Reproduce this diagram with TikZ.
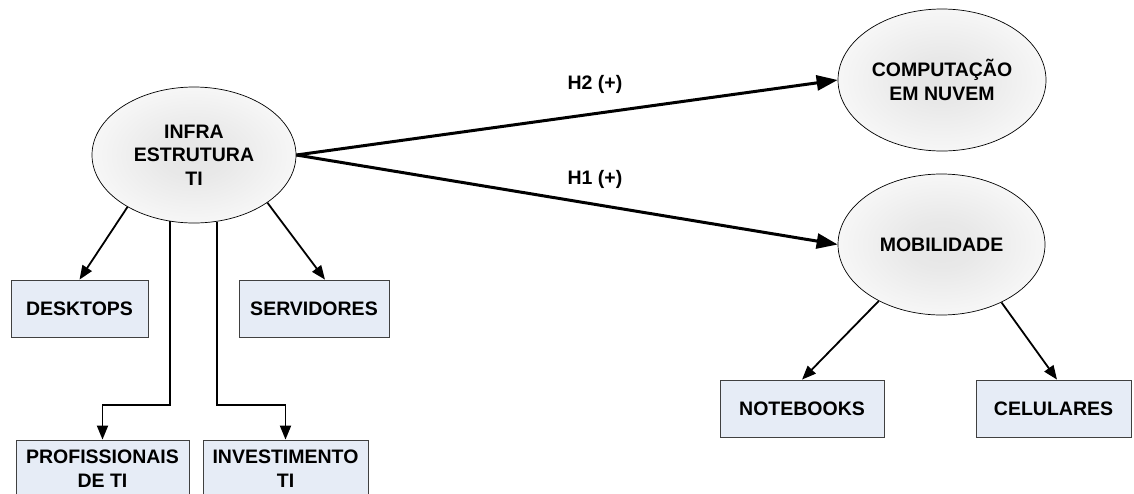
\documentclass[tikz,border=0pt]{standalone}
\usepackage{fontspec}
\setmainfont{Liberation Sans}
\usetikzlibrary{shapes.geometric,arrows.meta}
\definecolor{boxfill}{HTML}{E6ECF6}
\definecolor{boxborder}{HTML}{404040}
\pgfdeclareradialshading{ellshade}{\pgfpoint{0bp}{0bp}}{rgb(0bp)=(0.90,0.90,0.90); rgb(8bp)=(0.91,0.91,0.91); rgb(26bp)=(0.97,0.97,0.97); rgb(36bp)=(1,1,1); rgb(50bp)=(1,1,1)}
\newcommand{\lblfont}{\fontsize{19.5}{23.5}\selectfont\bfseries}
\tikzset{
  ell/.style={ellipse, draw=black, line width=0.7pt, shading=ellshade, inner sep=0pt, align=center, font=\lblfont},
  bx/.style={rectangle, draw=boxborder, fill=boxfill, line width=0.8pt, minimum height=57pt, inner sep=0pt, align=center, font=\lblfont},
  lbl/.style={font=\lblfont, inner sep=0pt},
  thinarr/.style={-{Triangle[length=14pt,width=11pt]}, line width=1.8pt},
  thickarr/.style={-{Triangle[length=21pt,width=15pt]}, line width=3pt}
}
\begin{document}
\begin{tikzpicture}[x=1pt,y=-1pt]
\useasboundingbox (0,0) rectangle (1134,493);
% ellipses
\node[ell, minimum width=204pt, minimum height=136pt] (infra) at (194,155) {INFRA\\ESTRUTURA\\TI};
\node[ell, minimum width=208pt, minimum height=142pt] (comp) at (942,80) {COMPUTAÇÃO\\EM NUVEM};
\node[ell, minimum width=207pt, minimum height=141pt] (mob) at (941.5,244.5) {MOBILIDADE};
% boxes
\node[bx, minimum width=137pt] (desk) at (79.5,308.5) {DESKTOPS};
\node[bx, minimum width=150pt] (serv) at (314,308.5) {SERVIDORES};
\node[bx, minimum width=173pt] (prof) at (102.5,468.5) {PROFISSIONAIS\\DE TI};
\node[bx, minimum width=165pt] (inv) at (285.5,468.5) {INVESTIMENTO\\TI};
\node[bx, minimum width=164pt] (note) at (802,408.5) {NOTEBOOKS};
\node[bx, minimum width=155pt] (cel) at (1053.5,408.5) {CELULARES};
% labels
\node[lbl] (h2) at (595,84) {H2 (+)};
\node[lbl] (h1) at (595,179) {H1 (+)};
% connectors
\draw[thickarr] (infra.east) -- (comp.west);
\draw[thickarr] (infra.east) -- (mob.west);
\draw[thinarr] (infra.218.8) -- (desk.north);
\draw[thinarr] (infra.327) -- ([xshift=11pt]serv.north);
\draw[thinarr] (infra.250.8) |- ([yshift=35pt]prof.north) -- (prof.north);
\draw[thinarr] (infra.289.2) |- ([yshift=35pt]inv.north) -- (inv.north);
\draw[thinarr] (mob.222) -- (note.north);
\draw[thinarr] (mob.316.5) -- ([xshift=3.5pt]cel.north);
\end{tikzpicture}
\end{document}
